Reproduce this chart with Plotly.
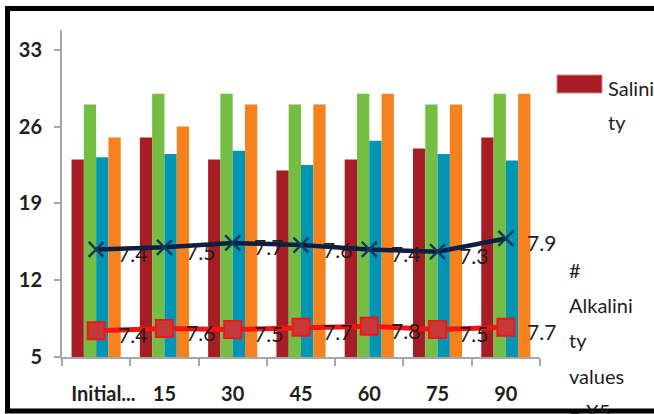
import plotly.graph_objects as go

# Sampling days
days = ["Initial...", "15", "30", "45", "60", "75", "90"]

# Bar series
salinity = [23, 25, 23, 22, 23, 24, 25]
green_vals = [28, 29, 29, 28, 29, 28, 29]
teal_vals = [23.2, 23.5, 23.8, 22.5, 24.7, 23.5, 22.9]
orange_vals = [25, 26, 28, 28, 29, 28, 29]

# Line series (labelled values)
navy_vals = [7.4, 7.5, 7.7, 7.6, 7.4, 7.3, 7.9]   # plotted at twice the value
red_vals = [7.4, 7.6, 7.5, 7.7, 7.8, 7.5, 7.7]

y_ticks = [5, 12, 19, 26, 33]

W, H = 654, 414
L, R, T, B = 62, 540, 30, 357


def fx(px):
    return (px - L) / (R - L)


def fy(py):
    return (B - py) / (B - T)


FONT = "Lato"
TXT = "#1e1e1e"

fig = go.Figure()
bar_specs = [
    ("Salinity", salinity, "#A71D25"),
    ("B", green_vals, "#74BE44"),
    ("C", teal_vals, "#0096B3"),
    ("D", orange_vals, "#F5821F"),
]
for name, vals, col in bar_specs:
    fig.add_trace(go.Bar(x=days, y=vals, name=name, marker=dict(color=col, line=dict(width=0))))

navy_y = [v * 2 for v in navy_vals]
fig.add_trace(go.Scatter(
    x=days, y=navy_y, mode="lines+markers",
    line=dict(color="#0B1E45", width=4.5),
    marker=dict(symbol="x-thin", size=15, line=dict(width=2.5, color="#123A5C")),
))
fig.add_trace(go.Scatter(
    x=days, y=red_vals, mode="lines+markers",
    line=dict(color="#F51414", width=5),
    marker=dict(symbol="square", size=17, color="#C33A38", line=dict(width=2, color="#F51414")),
))

annotations = []
for i, (v, yv) in enumerate(zip(navy_vals, navy_y)):
    annotations.append(dict(x=i, y=yv, xref="x", yref="y", text=f"{v:.1f}", showarrow=False,
                            xshift=36, yshift=-4, font=dict(family=FONT, size=21, color=TXT)))
for i, v in enumerate(red_vals):
    annotations.append(dict(x=i, y=v, xref="x", yref="y", text=f"{v:.1f}", showarrow=False,
                            xshift=36, yshift=-4, font=dict(family=FONT, size=21, color=TXT)))

# Legend-style text at the right
legend_lines = [
    ("Salini", 606, 88), ("ty", 606, 122),
    ("#", 567, 270), ("Alkalini", 567, 305), ("ty", 567, 340),
    ("values", 567, 376), ("– X5", 567, 411),
]
for txt, px, py in legend_lines:
    annotations.append(dict(x=fx(px), y=fy(py), xref="paper", yref="paper", text=txt,
                            showarrow=False, xanchor="left", yanchor="middle",
                            font=dict(family=FONT, size=20, color=TXT)))

shapes = [
    # legend swatch for salinity
    dict(type="rect", xref="paper", yref="paper", x0=fx(557), x1=fx(602), y0=fy(93), y1=fy(75),
         fillcolor="#A71D25", line=dict(color="#D08A8A", width=1)),
    # outer black frame
    dict(type="rect", xref="paper", yref="paper", x0=fx(7.5), x1=fx(700), y0=fy(411), y1=fy(8.5),
         line=dict(color="black", width=5), fillcolor="rgba(0,0,0,0)", layer="above"),
]

tick_text = ["\u00a0\u00a0\u00a0" + days[0]] + days[1:]

fig.update_layout(
    width=W, height=H,
    margin=dict(l=L, r=W - R, t=T, b=H - B, pad=0),
    paper_bgcolor="white", plot_bgcolor="white",
    barmode="group", bargap=0.28, bargroupgap=0,
    showlegend=False,
    annotations=annotations, shapes=shapes,
    xaxis=dict(type="category", range=[-0.5, 6.5], automargin=False,
               tickvals=days, ticktext=tick_text, tickangle=0,
               showgrid=False, showline=True, linecolor="#A6A6A6", linewidth=2,
               ticks="outside", ticklen=7, tickwidth=2, tickcolor="#A6A6A6", tickson="boundaries",
               tickfont=dict(family=FONT, size=20, color=TXT, weight="bold"), ticklabelstandoff=18),
    yaxis=dict(range=[5, 34.8], tickvals=y_ticks, showgrid=False, zeroline=False, showline=True,
               automargin=False,
               linecolor="#A6A6A6", linewidth=2, ticks="outside", ticklen=6, tickwidth=2,
               tickcolor="#A6A6A6", tickfont=dict(family=FONT, size=20, color=TXT, weight="bold"),
               ticklabelstandoff=8),
)

fig.write_html("out.html")
